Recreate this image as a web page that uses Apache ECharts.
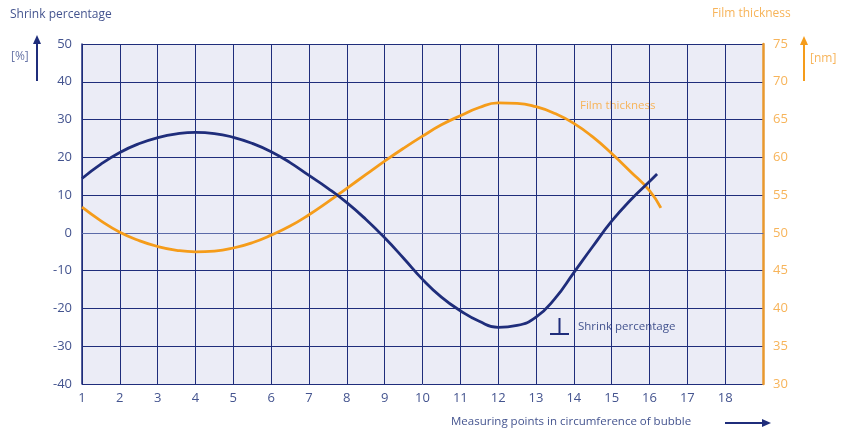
<!DOCTYPE html>
<html>
<head>
<meta charset="utf-8">
<script src="https://cdn.jsdelivr.net/npm/echarts@6/dist/echarts.min.js"></script>
<style>
  html, body { margin: 0; padding: 0; background: #fff; }
  #chart { width: 842px; height: 431px; }
</style>
</head>
<body>
<div id="chart"></div>
<script>
// measuring points (read every half step)
const shrinkX = [1, 1.5, 2, 2.5, 3, 3.5, 4, 4.5, 5, 5.5, 6, 6.5, 7, 7.5, 8, 8.5, 9, 9.5, 10, 10.5, 11, 11.5, 12, 12.5, 13, 13.5, 14, 14.5, 15, 15.5, 16, 16.2]
const shrinkY = [14.4, 18.2, 21.3, 23.6, 25.2, 26.2, 26.6, 26.3, 25.3, 23.7, 21.5, 18.6, 15.2, 11.8, 8.0, 3.6, -1.3, -6.7, -12.3, -17.0, -20.6, -23.4, -25.0, -24.5, -22.3, -17.4, -10.5, -3.6, 3.1, 8.7, 13.6, 15.6]
const filmX = [1, 1.5, 2, 2.5, 3, 3.5, 4, 4.5, 5, 5.5, 6, 6.5, 7, 7.5, 8, 8.5, 9, 9.5, 10, 10.5, 11, 11.5, 12, 12.5, 13, 13.5, 14, 14.5, 15, 15.5, 16, 16.3]
const filmY = [53.4, 51.6, 50.1, 49.0, 48.2, 47.7, 47.5, 47.6, 48.0, 48.7, 49.7, 50.9, 52.4, 54.1, 55.9, 57.7, 59.5, 61.2, 62.8, 64.3, 65.5, 66.6, 67.2, 67.15, 66.7, 65.8, 64.5, 62.7, 60.5, 58.1, 55.6, 53.3]

const navy = '#1f2d7b'
const orange = '#f59c1a'
const font = 'Open Sans'

const chart = echarts.init(document.getElementById('chart'))

const option = {
  animation: false,
  textStyle: { fontFamily: font },
  grid: {
    left: 82,
    right: 79,
    top: 44,
    bottom: 47,
    show: true,
    backgroundColor: '#ebecf6',
    borderWidth: 0,
  },
  xAxis: {
    type: 'value',
    min: 1,
    max: 19,
    interval: 1,
    axisLine: { lineStyle: { color: '#5b6aa8', width: 1 } },
    axisTick: { show: false },
    axisLabel: {
      color: '#44548f',
      fontSize: 13,
      margin: 8,
      formatter: (v) => (v === 19 ? '' : v),
    },
    splitLine: { show: true, lineStyle: { color: navy, width: 1 } },
  },
  yAxis: [
    {
      type: 'value',
      min: -40,
      max: 50,
      interval: 10,
      axisLine: { show: true, lineStyle: { color: navy, width: 1.5 } },
      axisTick: { show: false },
      axisLabel: { color: '#44548f', fontSize: 13, margin: 10 },
      splitLine: { show: true, lineStyle: { color: navy, width: 1 } },
    },
    {
      type: 'value',
      min: 30,
      max: 75,
      interval: 5,
      position: 'right',
      axisLine: { show: true, lineStyle: { color: '#e8982e', width: 2.5 } },
      axisTick: { show: false },
      axisLabel: { color: '#f7b45a', fontSize: 13, margin: 10 },
      splitLine: { show: false },
    },
  ],
  series: [
    {
      name: 'Film thickness',
      type: 'line',
      yAxisIndex: 1,
      smooth: true,
      symbol: 'none',
      lineStyle: { color: orange, width: 2.8 },
      data: filmX.map((x, i) => [x, filmY[i]]),
    },
    {
      name: 'Shrink percentage',
      type: 'line',
      yAxisIndex: 0,
      smooth: true,
      symbol: 'none',
      lineStyle: { color: navy, width: 2.8 },
      data: shrinkX.map((x, i) => [x, shrinkY[i]]),
    },
  ],
  graphic: [
    // left axis title
    { type: 'text', left: 10, top: 9, style: { text: 'Shrink percentage', fill: '#44548f', font: '12px ' + font } },
    { type: 'text', left: 11, top: 51, style: { text: '[%]', fill: '#6a77a8', font: '12px ' + font } },
    { type: 'line', shape: { x1: 37, y1: 81, x2: 37, y2: 42 }, style: { stroke: navy, lineWidth: 2 } },
    { type: 'polygon', shape: { points: [[37, 35], [33, 44], [41, 44]] }, style: { fill: navy } },
    // right axis title
    { type: 'text', left: 712, top: 8, style: { text: 'Film thickness', fill: '#f7b45a', font: '12px ' + font } },
    { type: 'text', left: 810, top: 53, style: { text: '[nm]', fill: '#f7b45a', font: '12px ' + font } },
    { type: 'line', shape: { x1: 804, y1: 81, x2: 804, y2: 43 }, style: { stroke: orange, lineWidth: 2 } },
    { type: 'polygon', shape: { points: [[804, 36], [800, 45], [808, 45]] }, style: { fill: orange } },
    // x axis title
    { type: 'text', left: 451, top: 416, style: { text: 'Measuring points in circumference of bubble', fill: '#44548f', font: '11.5px ' + font } },
    { type: 'line', shape: { x1: 725, y1: 423, x2: 764, y2: 423 }, style: { stroke: navy, lineWidth: 2 } },
    { type: 'polygon', shape: { points: [[771, 423], [762, 419], [762, 427]] }, style: { fill: navy } },
    // series labels
    { type: 'text', left: 580, top: 100, style: { text: 'Film thickness', fill: '#f7b45a', font: '11.5px ' + font } },
    { type: 'text', left: 578, top: 321, style: { text: 'Shrink percentage', fill: '#44548f', font: '11.5px ' + font } },
    { type: 'line', shape: { x1: 550, y1: 334, x2: 569, y2: 334 }, style: { stroke: navy, lineWidth: 2 } },
    { type: 'line', shape: { x1: 559.5, y1: 318, x2: 559.5, y2: 334 }, style: { stroke: navy, lineWidth: 2 } },
  ],
}

option && chart.setOption(option)
</script>
</body>
</html>
